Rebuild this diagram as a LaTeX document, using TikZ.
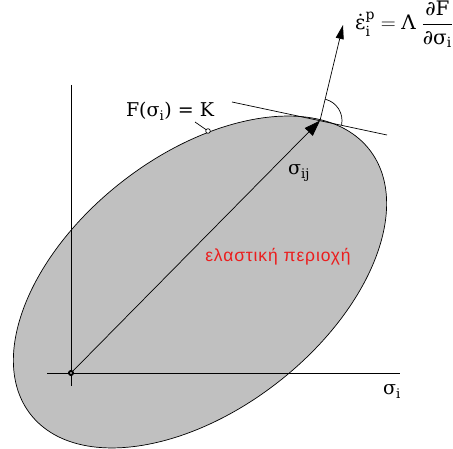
\documentclass[tikz,border=0pt]{standalone}
\usepackage{amsmath}
\usepackage{fontspec}
\setmainfont{DejaVu Serif}
\newfontfamily\grsans[LetterSpace=5]{Liberation Sans}
\usetikzlibrary{arrows.meta}
\definecolor{regiongray}{RGB}{192,192,192}
\definecolor{labelred}{RGB}{235,30,30}
\tikzset{
  axisline/.style={line width=0.9pt, black},
  thinline/.style={line width=0.7pt, black},
  bigtip/.style={-{Triangle[length=16pt,width=11pt]}},
  lbl/.style={inner sep=0pt, font=\fontsize{19}{23}\selectfont},
}
\begin{document}
\begin{tikzpicture}[x=1pt,y=-1pt]
\useasboundingbox (0,0) rectangle (453,449);
% elastic region
\coordinate (C) at (200,282);
\draw[fill=regiongray, line width=0.7pt, rotate around={38:(C)}] (C) ellipse[x radius=215, y radius=127];
% coordinates
\coordinate (O) at (71,373);
\coordinate (P) at (320,120.6);
\coordinate (N) at (343,25);
\coordinate (vt) at (71,85);
\coordinate (vb) at (71,386);
\coordinate (hl) at (47,373);
\coordinate (hr) at (400,373);
\coordinate (tl) at (232,102);
\coordinate (tr) at (387,135);
\coordinate (Kc) at (208,131);
\coordinate (Kl) at (195,122);
% axes
\draw[axisline] (vt) -- (vb);
\draw[axisline] (hl) -- (hr);
% tangent
\draw[thinline] (tl) -- (tr);
% sigma_ij vector
\draw[thinline, bigtip] (O) -- (P);
% normal
\draw[thinline, -{Triangle[length=14pt,width=8pt]}] (P) -- (N);
% angle mark
\draw[thinline] ([shift={(-76:22)}]P) arc[start angle=-76, end angle=11, radius=22];
% origin dot
\draw[line width=1.6pt, fill=gray] (O) circle[radius=2.2];
% point on surface
\draw[thinline] (Kl) -- (Kc);
\draw[thinline, fill=white] (Kc) circle[radius=2.3];
% labels
\node[lbl, anchor=base] (FK) at (170,117) {F(σ\textsubscript{i}) = K};
\node[lbl, anchor=base west] (sij) at (288,175) {σ\textsubscript{ij}};
\node[lbl, anchor=base west] (si) at (383,395) {σ\textsubscript{i}};
\node[inner sep=0pt, anchor=base west, font=\fontsize{20}{24}\selectfont] (eq) at (355,30) {$\text{ε̇}^{\text{p}}_{\text{i}} = \text{Λ}\;\dfrac{\text{∂F}}{\text{∂σ}_{\text{i}}}$};
\node[inner sep=0pt, anchor=base, text=labelred, font=\grsans\fontsize{17.5}{20}\selectfont] (el) at (278,262) {ελαστική περιοχή};
\end{tikzpicture}
\end{document}
